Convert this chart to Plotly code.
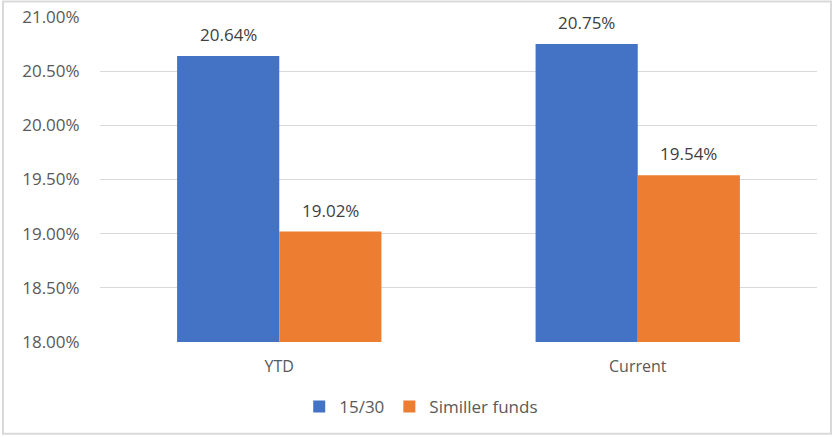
import plotly.graph_objects as go

categories = ["YTD", "Current"]
series_names = ["15/30", "Similler funds"]
values_1530 = [20.64, 20.75]
values_similar = [19.02, 19.54]
colors = ["#4472C4", "#ED7D31"]

W, H = 833, 437
L, R, T, B = 100, 16, 16.5, 95
FONT = "Open Sans, Liberation Sans, sans-serif"

fig = go.Figure()
annotations = []
for i, (name, vals, col) in enumerate(zip(series_names, [values_1530, values_similar], colors)):
    fig.add_trace(go.Bar(
        x=categories, y=vals, name=name, marker=dict(color=col, line=dict(width=0)),
    ))
    for c, v in zip(categories, vals):
        annotations.append(dict(
            x=c, y=v, xref="x", yref="y", text=f"{v:.2f}%", showarrow=False,
            xshift=-51 if i == 0 else 51, yanchor="bottom", yshift=8,
            font=dict(family=FONT, size=17, color="#404040"),
        ))

pw = W - L - R
ph = H - T - B
fig.update_layout(
    width=W, height=H,
    margin=dict(l=L, r=R, t=T, b=B, autoexpand=False),
    paper_bgcolor="white", plot_bgcolor="white",
    font=dict(family=FONT, color="#595959", size=16),
    barmode="group", bargap=0.43, bargroupgap=0,
    showlegend=True,
    legend=dict(orientation="h", x=0.448, xanchor="center", y=-0.2, yanchor="middle",
                font=dict(family=FONT, size=17, color="#595959"), itemwidth=30, traceorder="normal"),
    xaxis=dict(showgrid=False, showline=False, zeroline=False, ticks="outside", ticklen=10,
               tickcolor="rgba(0,0,0,0)", tickfont=dict(family=FONT, size=16, color="#595959")),
    yaxis=dict(range=[18, 21], dtick=0.5, tick0=18, tickformat=".2f", ticksuffix="%",
               showgrid=True, gridcolor="#D9D9D9", gridwidth=1, zeroline=False, showline=False,
               ticks="outside", ticklen=16, tickcolor="rgba(0,0,0,0)",
               tickfont=dict(family=FONT, size=17, color="#595959")),
    annotations=annotations,
    shapes=[dict(type="rect", xref="paper", yref="paper",
                 x0=(3 - L) / pw, x1=(831 - L) / pw,
                 y0=(H - B - 434) / ph, y1=(H - B - 1) / ph,
                 line=dict(color="#D9D9D9", width=2), fillcolor="rgba(0,0,0,0)", layer="below")],
)

fig.write_html("out.html", config={"displayModeBar": False},
               post_script="document.body.style.margin='0';document.body.style.overflow='hidden';")
